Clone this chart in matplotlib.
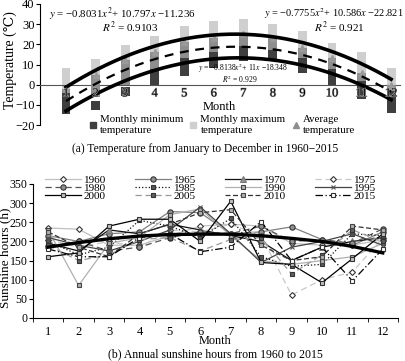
import numpy as np
import matplotlib
matplotlib.use("Agg")
import matplotlib.pyplot as plt
from matplotlib.lines import Line2D
import matplotlib.patheffects as pe

plt.rcParams['font.family'] = ['Liberation Serif', 'DejaVu Serif', 'DejaVu Sans']
plt.rcParams['mathtext.fontset'] = 'stix'

# ---------------- data: panel (a) ----------------
months = list(range(1, 13))
max_hi = [8.5, 12.5, 19.5, 24, 29, 31.5, 32.5, 30, 26.5, 20.5, 16, 8.5]
max_lo = [-3, 1, 6, 13, 18, 22, 24, 22, 17, 11, 4, -3]
avg_hi = [-2, 5, 12, 16, 21, 23, 25, 23, 18, 13, 6, 0]
avg_lo = [-11, -6, 0, 7, 13, 16, 18, 16, 10, 3, -4, -9]
min_hi = [-4, -8, -1, 8, 13, 16, 19, 17, 13, 8, 2, -3]
min_lo = [-14.5, -12.5, -5.5, 0, 4.5, 8.5, 11.5, 11.5, 6, 0, -7, -14]
# trendline coefficients as printed on the chart
fit_max = [-0.8031, 10.797, -11.236]
fit_min = [-0.7755, 10.586, -22.821]
fit_avg = [-0.8138, 11.0, -18.348]
temp_yticks = [-20, -10, 0, 10, 20, 30, 40]

# ---------------- data: panel (b) ----------------
years = ['1960', '1965', '1970', '1975', '1980', '1985',
         '1990', '1995', '2000', '2005', '2010', '2015']
s1960 = [235, 232, 190, 190, 215, 240, 245, 240, 195, 190, 190, 205]
s1965 = [215, 200, 220, 225, 278, 275, 220, 225, 238, 205, 190, 225]
s1970 = [195, 175, 230, 220, 245, 230, 215, 200, 150, 185, 200, 210]
s1975 = [205, 185, 200, 185, 230, 225, 245, 215, 60, 100, 120, 210]
s1980 = [185, 200, 175, 185, 210, 225, 220, 240, 200, 205, 195, 233]
s1985 = [200, 165, 185, 255, 240, 210, 260, 160, 135, 140, 220, 215]
s1990 = [230, 85, 195, 210, 270, 285, 215, 150, 140, 150, 160, 195]
s1995 = [210, 190, 175, 200, 230, 290, 220, 145, 185, 200, 220, 190]
s2000 = [160, 170, 240, 258, 258, 200, 305, 145, 140, 92, 155, 220]
s2005 = [190, 150, 165, 205, 210, 175, 205, 210, 115, 165, 230, 200]
s2010 = [225, 185, 160, 220, 245, 275, 283, 190, 150, 160, 240, 230]
s2015 = [180, 160, 160, 210, 220, 173, 185, 252, 150, 185, 97, 180]
sun_trend = [185, 197, 207, 214, 218, 219, 219, 215, 208, 200, 187, 170]
sun_yticks = [0, 50, 100, 150, 200, 250, 300, 350]

series = [s1960, s1965, s1970, s1975, s1980, s1985,
          s1990, s1995, s2000, s2005, s2010, s2015]
styles = [
    dict(color='#c0c0c0', ls='-', marker='D', mfc='white', mec='#333333', ms=3),
    dict(color='#808080', ls='-', marker='o', mfc='#909090', mec='#333333', ms=3.8),
    dict(color='#111111', ls='-', marker='^', mfc='#909090', mec='#777777', ms=3.8),
    dict(color='#c8c8c8', ls=(0, (5, 3)), marker='D', mfc='white', mec='#333333', ms=3),
    dict(color='#555555', ls=(0, (5, 3)), marker='o', mfc='#909090', mec='#333333', ms=3.8),
    dict(color='#111111', ls=':', marker='s', mfc='#555555', mec='#333333', ms=3.5),
    dict(color='#b0b0b0', ls='-', marker='s', mfc='#b0b0b0', mec='#444444', ms=3.5),
    dict(color='#444444', ls='-', marker='x', mfc='#555555', mec='#555555', ms=3.5),
    dict(color='#000000', ls='-', marker='s', mfc='#c0c0c0', mec='#333333', ms=3.5),
    dict(color='#999999', ls=(0, (5, 3)), marker='s', mfc='#606060', mec='#333333', ms=3.5),
    dict(color='#333333', ls=(0, (4, 2)), marker='s', mfc='#b0b0b0', mec='#444444', ms=3.5),
    dict(color='#000000', ls=(0, (6, 2, 1, 2)), marker='s', mfc='white', mec='#333333', ms=3.5),
]

W, H = 405, 361
fig = plt.figure(figsize=(W / 100, H / 100), dpi=100)

def fx(px):
    return px / W

def fy(py):
    return 1 - py / H

M = '\u2212'

# ---------------- panel (a) ----------------
ax1 = fig.add_axes([fx(40), fy(125), fx(400) - fx(40), fy(4) - fy(125)])
x = np.array(months, dtype=float)
bw = 0.3
ax1.bar(x, np.array(max_hi) - np.array(max_lo), bottom=max_lo, width=bw,
        color='#cfcfcf', zorder=2)
ax1.bar(x, np.array(avg_hi) - np.array(avg_lo), bottom=avg_lo, width=bw,
        color='#8e8e8e', zorder=3)
ax1.plot(x, avg_hi, ls='none', marker='^', ms=4, color='#9a9a9a', zorder=3)
ax1.bar(x, np.array(min_hi) - np.array(min_lo), bottom=min_lo, width=bw,
        color='#3f3f3f', zorder=4)

xs = np.linspace(1, 12, 200)
ax1.plot(xs, np.polyval(fit_max, xs), color='black', lw=2.6, zorder=6)
ax1.plot(xs, np.polyval(fit_min, xs), color='black', lw=2.6, zorder=6)
ax1.plot(xs, np.polyval(fit_avg, xs), color='black', lw=1.6, ls=(0, (4, 3)), zorder=6)

ax1.set_xlim(0.12, 12.3)
ax1.set_ylim(-20, 40)
ax1.set_yticks(temp_yticks)
ax1.set_yticklabels([M + '20', M + '10', '0', '10', '20', '30', '40'])
ax1.set_xticks(months)
ax1.set_xticklabels([str(m) for m in months])
ax1.spines['top'].set_visible(False)
ax1.spines['right'].set_visible(False)
ax1.spines['bottom'].set_position(('data', 0))
ax1.spines['bottom'].set_color('#555555')
ax1.tick_params(axis='x', length=0, pad=2, labelsize=9)
ax1.tick_params(axis='y', length=3, direction='out', labelsize=9, pad=1)
ax1.xaxis.set_zorder(10)
for lbl in ax1.get_xticklabels():
    lbl.set_path_effects([pe.withStroke(linewidth=0.8, foreground='#a8a8a8')])
ax1.patch.set_alpha(0)

fig.text(fx(10), fy(60), 'Temperature (\u2103)', rotation=90, ha='center',
         va='center', fontsize=10)
fig.text(fx(219), fy(107), 'Month', ha='center', va='center', fontsize=9)
fig.text(fx(122), fy(14), '$y$ = ' + M + '0.8031$x^2$+ 10.797$x$ ' + M + '11.236',
         ha='center', va='center', fontsize=7.8)
fig.text(fx(130), fy(27.5), r'$R^2$ = 0.9103', ha='center', va='center', fontsize=8)
fig.text(fx(334), fy(14), '$y$ = ' + M + '0.7755$x^2$+ 10.586$x$ ' + M + '22.821',
         ha='center', va='center', fontsize=7.5)
fig.text(fx(339), fy(27.5), r'$R^2$ = 0.921', ha='center', va='center', fontsize=8)
fig.text(fx(243), fy(68.5), '$y$ = ' + M + '0.8138$x^2$+ 11$x$ ' + M + '18.348',
         ha='center', va='center', fontsize=5.5)
fig.text(fx(240), fy(79), r'$R^2$ = 0.929', ha='center', va='center', fontsize=5.5)

leg_a = [
    Line2D([], [], ls='none', marker='s', ms=4.5, color='#3f3f3f'),
    Line2D([], [], ls='none', marker='s', ms=4.5, color='#cfcfcf'),
    Line2D([], [], ls='none', marker='^', ms=4.5, color='#8e8e8e'),
]
fig.legend(leg_a, ['Monthly minimum\ntemperature', 'Monthly maximum\ntemperature',
                   'Average\ntemperature'],
           loc='center', bbox_to_anchor=(fx(222), fy(125)), ncol=3, frameon=False,
           fontsize=7.8, handlelength=0.7, handletextpad=0.3, columnspacing=0.6,
           borderpad=0, borderaxespad=0, labelspacing=0)
fig.text(fx(205), fy(149), '(a) Temperature from January to December in 1960' + M + '2015',
         ha='center', va='center', fontsize=8.3)

# ---------------- panel (b) ----------------
ax2 = fig.add_axes([fx(33), fy(318), fx(398) - fx(33), fy(184) - fy(318)])
handles = []
for name, s, st in zip(years, series, styles):
    h, = ax2.plot(months, s, lw=0.9, label=name, color=st['color'], ls=st['ls'],
                  marker=st['marker'], mfc=st['mfc'], mec=st['mec'], ms=st['ms'],
                  mew=0.8)
    handles.append(h)
ax2.plot(months, sun_trend, color='black', lw=2.4, zorder=5)

ax2.set_xlim(0.5, 12.5)
ax2.set_ylim(0, 350)
ax2.set_yticks(sun_yticks)
ax2.set_xticks(months)
ax2.set_xticks(np.arange(0.5, 13, 1), minor=True)
ax2.set_xticklabels([str(m) for m in months])
ax2.spines['top'].set_visible(False)
ax2.spines['right'].set_visible(False)
ax2.tick_params(axis='x', which='major', length=0, pad=6, labelsize=9)
ax2.tick_params(axis='x', which='minor', length=3, direction='out')
ax2.tick_params(axis='y', length=3, direction='out', labelsize=8.5, pad=1)
ax2.patch.set_alpha(0)

fig.text(fx(5), fy(258), 'Sunshine hours (h)', rotation=90, ha='center',
         va='center', fontsize=9.5)
fig.text(fx(215), fy(341), 'Month', ha='center', va='center', fontsize=8.8)
fig.text(fx(215), fy(354), '(b) Annual sunshine hours from 1960 to 2015',
         ha='center', va='center', fontsize=8.5)

order = [0, 4, 8, 1, 5, 9, 2, 6, 10, 3, 7, 11]
fig.legend([handles[i] for i in order], [years[i] for i in order],
           loc='upper left', bbox_to_anchor=(fx(45), fy(175)), ncol=4, frameon=False,
           fontsize=8, handlelength=3.2, handletextpad=0.3, columnspacing=2.6,
           borderpad=0, borderaxespad=0, labelspacing=-0.15)

fig.savefig('out.png', dpi=100)
